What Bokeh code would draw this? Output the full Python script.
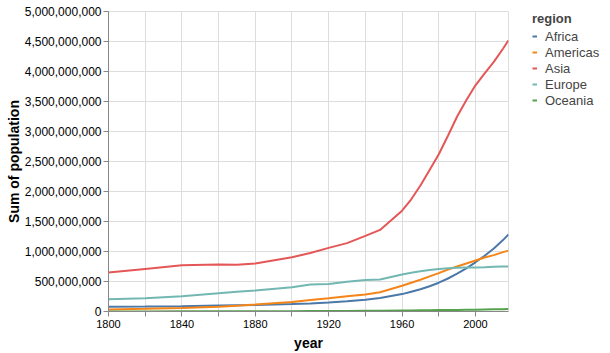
from bokeh.plotting import figure
from bokeh.models import (ColumnDataSource, Range1d, FixedTicker, NumeralTickFormatter,
                          Legend, LegendItem)
from bokeh.embed import file_html
from bokeh.resources import INLINE

years = [1800, 1820, 1840, 1860, 1870, 1880, 1900, 1910, 1920, 1930, 1940, 1948,
         1960, 1965, 1970, 1975, 1980, 1985, 1990, 1995, 2000, 2005, 2010, 2015, 2018]

regions = ["Africa", "Americas", "Asia", "Europe", "Oceania"]
colors = ["#4c78a8", "#f58518", "#e45756", "#72b7b2", "#54a24b"]

# population in millions
africa = [78, 82, 88, 100, 105, 110, 125, 135, 150, 170, 195, 225,
          290, 330, 370, 420, 480, 550, 630, 720, 820, 930, 1050, 1190, 1285]
americas = [35, 45, 60, 80, 95, 115, 160, 190, 220, 255, 285, 320,
            430, 480, 530, 585, 640, 700, 750, 800, 850, 900, 940, 990, 1015]
asia = [650, 710, 770, 785, 780, 800, 905, 975, 1060, 1140, 1260, 1360,
        1680, 1870, 2100, 2360, 2620, 2930, 3250, 3520, 3770, 3970, 4160, 4380, 4520]
europe = [205, 220, 255, 305, 330, 350, 405, 450, 460, 495, 525, 535,
          615, 645, 670, 690, 710, 720, 730, 735, 735, 738, 745, 750, 752]
oceania = [2, 2, 3, 5, 5, 6, 6, 7, 8, 10, 11, 12,
           16, 17, 19, 21, 23, 25, 27, 29, 31, 34, 37, 39, 41]

series = [africa, americas, asia, europe, oceania]

x_ticks = list(range(1800, 2020, 20))
x_label_every = 40
y_ticks = [i * 500_000_000 for i in range(11)]

p = figure(frame_width=400, frame_height=300, output_backend="svg", toolbar_location=None,
           x_range=Range1d(1800, 2018), y_range=Range1d(0, 5_000_000_000))
p.min_border_left = 108
p.min_border_right = 102
p.min_border_top = 11
p.min_border_bottom = 42
p.outline_line_color = "#dddddd"
p.background_fill_color = "white"
p.border_fill_color = "white"

items = []
for name, vals, col in zip(regions, series, colors):
    src = ColumnDataSource(dict(year=years, pop=[v * 1_000_000 for v in vals]))
    r = p.line("year", "pop", source=src, line_color=col, line_width=2)
    items.append(LegendItem(label=name, renderers=[r]))

# axes
p.xaxis.ticker = FixedTicker(ticks=x_ticks)
p.xaxis.major_label_overrides = {t: ("" if (t - x_ticks[0]) % x_label_every else str(t)) for t in x_ticks}
p.yaxis.ticker = FixedTicker(ticks=y_ticks)
p.yaxis.formatter = NumeralTickFormatter(format="0,0")
p.xgrid.ticker = FixedTicker(ticks=x_ticks)
p.ygrid.ticker = FixedTicker(ticks=y_ticks)
for g in (p.xgrid, p.ygrid):
    g.grid_line_color = "#dddddd"
    g.grid_line_width = 1

for ax in (p.xaxis, p.yaxis):
    ax.axis_line_color = "#888888"
    ax.major_tick_line_color = "#888888"
    ax.major_tick_out = 5
    ax.major_tick_in = 0
    ax.minor_tick_line_color = None
    ax.major_label_text_font = "Liberation Sans"
    ax.major_label_text_color = "#000000"
    ax.axis_label_text_font = "Liberation Sans"
    ax.axis_label_text_font_style = "bold"
    ax.axis_label_text_font_size = "14px"
    ax.axis_label_text_color = "#000000"
    ax.major_label_standoff = 3

p.xaxis.major_label_text_font_size = "11px"
p.yaxis.major_label_text_font_size = "12px"
p.yaxis.major_label_standoff = 2
p.xaxis.axis_label = "year"
p.yaxis.axis_label = "Sum of population"
p.xaxis.axis_label_standoff = 4
p.yaxis.axis_label_standoff = 0

legend = Legend(items=items, location=(24, 203), title="region",
                title_text_font="Liberation Sans", title_text_font_style="bold",
                title_text_font_size="13px", title_standoff=2,
                label_text_font="Liberation Sans", label_text_font_size="13px",
                glyph_width=5, glyph_height=16, label_height=16, label_standoff=8,
                spacing=0, padding=0, margin=0,
                border_line_alpha=0, background_fill_alpha=0)
p.add_layout(legend, "right")

open("out.html", "w").write(file_html(p, INLINE))
